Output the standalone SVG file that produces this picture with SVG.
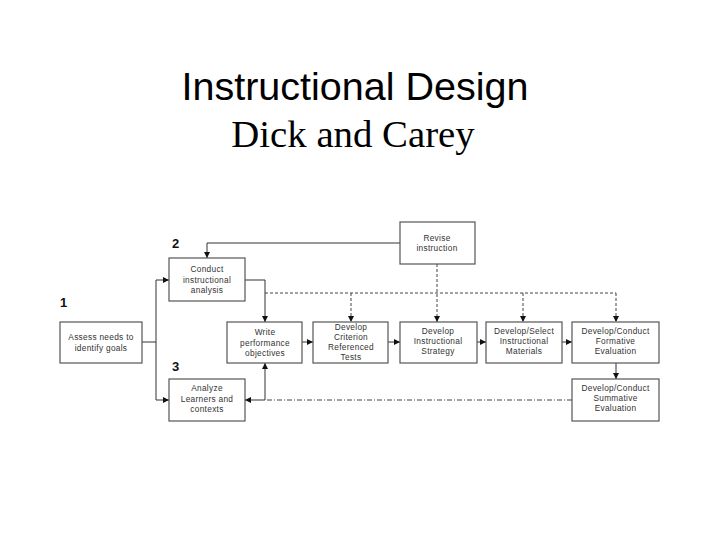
<svg xmlns="http://www.w3.org/2000/svg" width="720" height="540" viewBox="0 0 720 540">
<style>
.box{fill:#fff;stroke:#555;stroke-width:1.2}
.t{font-family:"Liberation Sans",Arial,sans-serif;font-size:8.3px;fill:#333;text-anchor:middle;letter-spacing:0.3px}
.num{font-family:"Liberation Sans",Arial,sans-serif;font-size:13px;font-weight:bold;fill:#111}
.ln{fill:none;stroke:#333;stroke-width:1}
.dash{fill:none;stroke:#444;stroke-width:1;stroke-dasharray:3,2}
.dd{fill:none;stroke:#444;stroke-width:1;stroke-dasharray:5,2,1,2}
</style>
<defs>
<marker id="ah" markerUnits="userSpaceOnUse" markerWidth="6" markerHeight="6" refX="6" refY="3" orient="auto">
<path d="M0,0 L6,3 L0,6 z" fill="#111"/>
</marker>
</defs>
<rect width="720" height="540" fill="#fff"/>
<g id="title">
<text x="355" y="100" font-family="Liberation Sans,Arial,sans-serif" font-size="39.5" text-anchor="middle" fill="#000">Instructional Design</text>
<text x="353" y="147" font-family="Liberation Serif,Times New Roman,serif" font-size="38.8" text-anchor="middle" fill="#000">Dick and Carey</text>
</g>
<g id="numbers">
<text class="num" x="60" y="307">1</text>
<text class="num" x="172" y="248">2</text>
<text class="num" x="172" y="371">3</text>
</g>
<g id="connectors">
<path class="ln" d="M142,342 H156 V280 H169" marker-end="url(#ah)"/>
<path class="ln" d="M156,342 V400 H169" marker-end="url(#ah)"/>
<path class="ln" d="M400,243 H207 V258" marker-end="url(#ah)"/>
<path class="ln" d="M245,280 H265 V322" marker-end="url(#ah)"/>
<path class="dash" d="M265,293 H616"/>
<path class="dash" d="M351,293 V322" marker-end="url(#ah)"/>
<path class="dash" d="M437,264 V322" marker-end="url(#ah)"/>
<path class="dash" d="M523,293 V322" marker-end="url(#ah)"/>
<path class="dash" d="M616,293 V322" marker-end="url(#ah)"/>
<path class="ln" d="M302,342 H313" marker-end="url(#ah)"/>
<path class="ln" d="M388,342 H400" marker-end="url(#ah)"/>
<path class="ln" d="M477,342 H486" marker-end="url(#ah)"/>
<path class="ln" d="M562,342 H572" marker-end="url(#ah)"/>
<path class="ln" d="M616,363 V379" marker-end="url(#ah)"/>
<path class="dd" d="M572,400 H265"/>
<path class="ln" d="M265,400 V363" marker-end="url(#ah)"/>
<path class="ln" d="M265,400 H245" marker-end="url(#ah)"/>
</g>
<g id="assess">
<rect class="box" x="60" y="322" width="82" height="41"/>
<text class="t" x="101" y="340">Assess needs to</text>
<text class="t" x="101" y="351">identify goals</text>
</g>
<g id="conduct">
<rect class="box" x="169" y="258" width="76" height="43"/>
<text class="t" x="207" y="272">Conduct</text>
<text class="t" x="207" y="282.5">instructional</text>
<text class="t" x="207" y="293">analysis</text>
</g>
<g id="analyze">
<rect class="box" x="169" y="379" width="76" height="42"/>
<text class="t" x="207" y="391">Analyze</text>
<text class="t" x="207" y="401.5">Learners and</text>
<text class="t" x="207" y="412">contexts</text>
</g>
<g id="revise">
<rect class="box" x="400" y="222" width="75" height="42"/>
<text class="t" x="437" y="241">Revise</text>
<text class="t" x="437" y="251">instruction</text>
</g>
<g id="write">
<rect class="box" x="227" y="322" width="75" height="41"/>
<text class="t" x="265" y="335">Write</text>
<text class="t" x="265" y="345.5">performance</text>
<text class="t" x="265" y="355.5">objectives</text>
</g>
<g id="criterion">
<rect class="box" x="313" y="322" width="75" height="41"/>
<text class="t" x="351" y="330">Develop</text>
<text class="t" x="351" y="340">Criterion</text>
<text class="t" x="351" y="350">Referenced</text>
<text class="t" x="351" y="360">Tests</text>
</g>
<g id="strategy">
<rect class="box" x="400" y="322" width="77" height="41"/>
<text class="t" x="438" y="333.5">Develop</text>
<text class="t" x="438" y="344">Instructional</text>
<text class="t" x="438" y="354">Strategy</text>
</g>
<g id="materials">
<rect class="box" x="486" y="322" width="76" height="41"/>
<text class="t" x="524" y="333.5">Develop/Select</text>
<text class="t" x="524" y="344">Instructional</text>
<text class="t" x="524" y="354">Materials</text>
</g>
<g id="formative">
<rect class="box" x="572" y="322" width="87" height="41"/>
<text class="t" x="615.5" y="333.5">Develop/Conduct</text>
<text class="t" x="615.5" y="344">Formative</text>
<text class="t" x="615.5" y="354">Evaluation</text>
</g>
<g id="summative">
<rect class="box" x="572" y="379" width="87" height="42"/>
<text class="t" x="615.5" y="391">Develop/Conduct</text>
<text class="t" x="615.5" y="401">Summative</text>
<text class="t" x="615.5" y="411">Evaluation</text>
</g>
</svg>
